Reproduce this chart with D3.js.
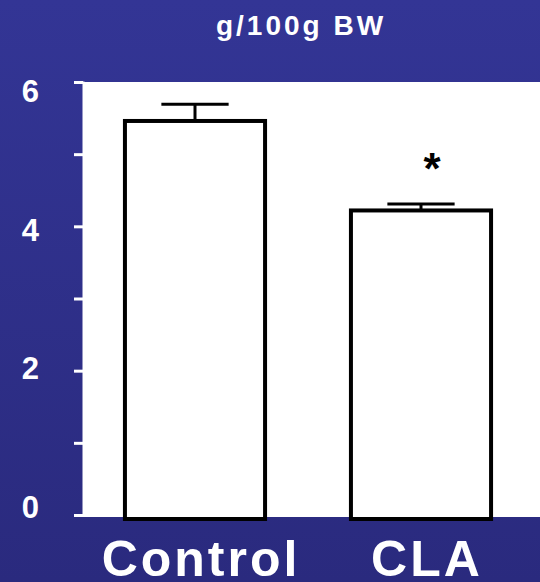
<!DOCTYPE html>
<html>
<head>
<meta charset="utf-8">
<script src="https://cdn.jsdelivr.net/npm/d3@7"></script>
<style>
body{margin:0;padding:0;overflow:hidden;}
text{font-family:"Liberation Sans",Arial,sans-serif;font-weight:bold;}
</style>
</head>
<body>
<div id="chart"></div>
<script>
var W = 540, H = 582
var margin = {top:82, right:0, bottom:65, left:83}

//data
var groups = ["Control","CLA"]
var means = [5.46, 4.22]
var errors = [0.23, 0.09]
var significant = [false, true]
var yTicks = [0,1,2,3,4,5,6]
var yTickLabels = [0,2,4,6]
var unitTitle = "g/100g BW"

var svg = d3.select("#chart").append("svg")
    .attr("width", W)
    .attr("height", H)

//blue background gradient
var defs = svg.append("defs")
var grad = defs.append("linearGradient")
    .attr("id","bg")
    .attr("x1",0).attr("y1",0).attr("x2",0).attr("y2",1)
grad.append("stop").attr("offset","0%").attr("stop-color","#333595")
grad.append("stop").attr("offset","100%").attr("stop-color","#2a2a7e")
svg.append("rect")
    .attr("width", W)
    .attr("height", H)
    .attr("fill","url(#bg)")

//scales
var yScale = d3.scaleLinear().domain([0,6]).range([515, 82])
var labelScale = d3.scaleLinear().domain([0,6]).range([507, 91]) // labels sit a bit off the ticks
var xScale = d3.scaleBand().domain(groups).range([82, 534]).paddingInner(0.38).paddingOuter(0.19)

//white plot area
svg.append("rect")
    .attr("x", margin.left)
    .attr("y", yScale(6))
    .attr("width", W - margin.left)
    .attr("height", yScale(0) - yScale(6) + 2)
    .attr("fill","#ffffff")

//y axis (white ticks, labels drawn separately)
var yAxis = d3.axisLeft(yScale).tickValues(yTicks).tickSize(9).tickFormat("")
var gy = svg.append("g")
    .attr("transform","translate(" + margin.left + ",0)")
    .call(yAxis)
gy.selectAll("line").attr("stroke","#ffffff").attr("stroke-width",3)
gy.select(".domain").attr("stroke","#ffffff").attr("stroke-width",2)

svg.selectAll(".ylab").data(yTickLabels).enter()
    .append("text")
    .attr("class","ylab")
    .attr("x", 39)
    .attr("y", function(d){ return labelScale(d)})
    .attr("dy","0.36em")
    .attr("text-anchor","end")
    .attr("font-size", 31)
    .attr("fill","#ffffff")
    .text(function(d){ return d})

//title
svg.append("text")
    .attr("x", 301)
    .attr("y", 35)
    .attr("text-anchor","middle")
    .attr("font-size", 28)
    .attr("letter-spacing", 3)
    .attr("fill","#ffffff")
    .text(unitTitle)

var data = groups.map(function(g,i){ return {name:g, mean:means[i], err:errors[i], sig:significant[i]}})

//bars
svg.selectAll(".bar").data(data).enter()
    .append("rect")
    .attr("class","bar")
    .attr("x", function(d){ return xScale(d.name)})
    .attr("y", function(d){ return yScale(d.mean)})
    .attr("width", xScale.bandwidth())
    .attr("height", function(d){ return yScale(0) - yScale(d.mean) + 4})
    .attr("fill","#ffffff")
    .attr("stroke","#000000")
    .attr("stroke-width",4)

//error bars
var eb = svg.selectAll(".err").data(data).enter().append("g").attr("class","err")
eb.append("line")
    .attr("x1", function(d){ return xScale(d.name) + xScale.bandwidth()/2})
    .attr("x2", function(d){ return xScale(d.name) + xScale.bandwidth()/2})
    .attr("y1", function(d){ return yScale(d.mean)})
    .attr("y2", function(d){ return yScale(d.mean + d.err)})
    .attr("stroke","#000000")
    .attr("stroke-width",3)
eb.append("line")
    .attr("x1", function(d){ return xScale(d.name) + xScale.bandwidth()*0.26})
    .attr("x2", function(d){ return xScale(d.name) + xScale.bandwidth()*0.74})
    .attr("y1", function(d){ return yScale(d.mean + d.err)})
    .attr("y2", function(d){ return yScale(d.mean + d.err)})
    .attr("stroke","#000000")
    .attr("stroke-width",3)

//significance star
svg.selectAll(".star").data(data.filter(function(d){ return d.sig})).enter()
    .append("text")
    .attr("class","star")
    .attr("x", function(d){ return xScale(d.name) + xScale.bandwidth()/2 + 11})
    .attr("y", function(d){ return yScale(d.mean + d.err) - 20})
    .attr("text-anchor","middle")
    .attr("font-size", 44)
    .attr("fill","#000000")
    .text("*")

//x labels
svg.selectAll(".xlab").data(groups).enter()
    .append("text")
    .attr("class","xlab")
    .attr("x", function(d){ return xScale(d) + xScale.bandwidth()/2 + 6})
    .attr("y", 576)
    .attr("text-anchor","middle")
    .attr("font-size", 50)
    .attr("letter-spacing", 3)
    .attr("fill","#ffffff")
    .text(function(d){ return d})
</script>
</body>
</html>
